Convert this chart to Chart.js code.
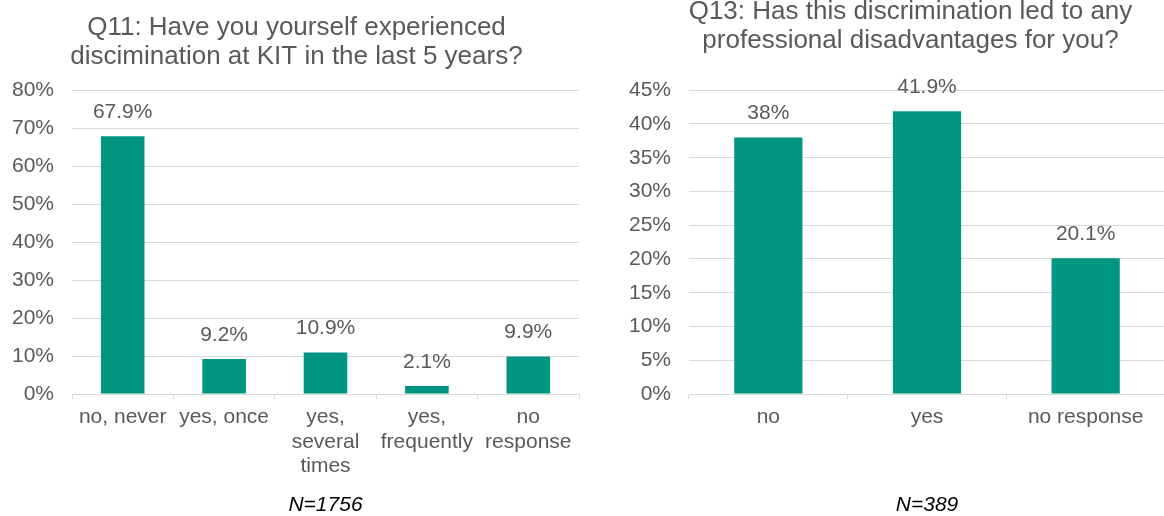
<!DOCTYPE html>
<html>
<head>
<meta charset="utf-8">
<title>Discrimination at KIT</title>
<script src="https://cdn.jsdelivr.net/npm/chart.js@4/dist/chart.umd.min.js"></script>
<style>
  html, body { margin: 0; padding: 0; background: #fff; overflow: hidden; width: 1164px; height: 516px; }
  .box { position: absolute; }
  #box_q11 { left: 0; top: 0; width: 586px; height: 516px; }
  #box_q13 { left: 600px; top: -16px; width: 565px; height: 532px; }
</style>
</head>
<body>
<div class="box" id="box_q11"><canvas id="graph_q11"></canvas></div>
<div class="box" id="box_q13"><canvas id="graph_q13"></canvas></div>

<script>
/* data */
var q11_labels = ['no, never', 'yes, once', ['yes,', 'several', 'times'], ['yes,', 'frequently'], ['no', 'response']]
var q11_values = [67.9, 9.2, 10.9, 2.1, 9.9]
var q11_ticks = [0, 10, 20, 30, 40, 50, 60, 70, 80]

var q13_labels = ['no', 'yes', 'no response']
var q13_values = [38, 41.9, 20.1]
var q13_ticks = [0, 5, 10, 15, 20, 25, 30, 35, 40, 45]

var FONT = "'Liberation Sans', Arial, sans-serif"
var GREY = '#595959'
var GRID = '#d9d9d9'
var BAR = '#009682'

Chart.defaults.font.family = FONT
Chart.defaults.color = GREY
Chart.defaults.animation = false

/* percent label above each bar */
var valueLabels = {
  id: 'valueLabels',
  afterDatasetsDraw: function (chart) {
    var ctx = chart.ctx
    ctx.save()
    ctx.font = '21px ' + FONT
    ctx.fillStyle = GREY
    ctx.textAlign = 'center'
    ctx.textBaseline = 'middle'
    chart.data.datasets.forEach(function (ds, i) {
      chart.getDatasetMeta(i).data.forEach(function (bar, j) {
        ctx.fillText(ds.data[j] + '%', bar.x, bar.y - 24)
      })
    })
    ctx.restore()
  }
}

// moves the title block sideways so it is not centred on the whole canvas
function titleShift(dx) {
  return {
    id: 'titleShift',
    afterLayout: function (chart) {
      if (chart.titleBlock) {
        chart.titleBlock.left += dx
        chart.titleBlock.right += dx
      }
    }
  }
}

function makeConfig(labels, values, ticks, title, n, yWidth, padTop, padBottom, padRight, dx) {
  return {
    type: 'bar',
    data: {
      labels: labels,
      datasets: [{
        data: values,
        backgroundColor: BAR,
        categoryPercentage: 1,
        barPercentage: 0.43
      }]
    },
    options: {
      responsive: true,
      maintainAspectRatio: false,
      layout: { padding: { left: 0, right: padRight, top: 0, bottom: 0 } },
      plugins: {
        legend: { display: false },
        tooltip: { enabled: false },
        title: {
          display: true,
          text: title,
          color: GREY,
          font: { size: 26, weight: 'normal', lineHeight: 1.1 },
          padding: { top: padTop, bottom: padBottom }
        }
      },
      scales: {
        x: {
          grid: { display: true, drawOnChartArea: false, drawTicks: true, tickLength: 5, color: GRID },
          border: { display: true, color: GRID, width: 1 },
          ticks: { color: GREY, font: { size: 21, lineHeight: 1.17 }, padding: 6, maxRotation: 0, autoSkip: false },
          title: {
            display: true,
            text: n,
            color: '#000',
            font: { size: 21, style: 'italic', lineHeight: 1 },
            padding: 0
          },
          afterFit: function (scale) { scale.height = 122 }
        },
        y: {
          min: ticks[0],
          max: ticks[ticks.length - 1],
          afterBuildTicks: function (scale) {
            scale.ticks = ticks.map(function (v) { return { value: v } })
          },
          grid: { color: GRID, drawTicks: false, lineWidth: 1 },
          border: { display: false },
          ticks: {
            color: GREY,
            font: { size: 21 },
            padding: 18,
            callback: function (v) { return v + '%' }
          },
          afterFit: function (scale) { scale.width = yWidth }
        }
      }
    },
    plugins: [valueLabels, titleShift(dx)]
  }
}

/* Q11 */
var ctx_q11 = document.getElementById('graph_q11').getContext('2d')
var graph_q11 = new Chart(ctx_q11, makeConfig(
  q11_labels, q11_values, q11_ticks,
  ['Q11: Have you yourself experienced', 'discimination at KIT in the last 5 years?'],
  'N=1756', 72, 14, 19, 7, 7))

/* Q13 */
var ctx_q13 = document.getElementById('graph_q13').getContext('2d')
var graph_q13 = new Chart(ctx_q13, makeConfig(
  q13_labels, q13_values, q13_ticks,
  ['Q13: Has this discrimination led to any', 'professional disadvantages for you?'],
  'N=389', 89, 14, 35, 0, 28))
</script>
</body>
</html>
